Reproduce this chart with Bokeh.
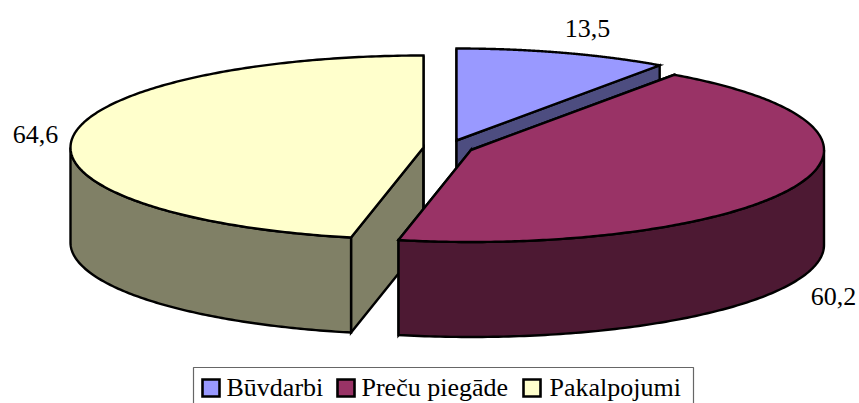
import numpy as np
from bokeh.plotting import figure
from bokeh.core.properties import value
from bokeh.embed import file_html
from bokeh.resources import INLINE

categories = ["Būvdarbi", "Preču piegāde", "Pakalpojumi"]
values = [13.5, 60.2, 64.6]
top_colors = ["#9999FF", "#993366", "#FFFFCC"]
side_colors = ["#4D4D80", "#4D1933", "#808066"]

A, B, DEPTH = 353, 92, 95
centers = [(456, 140), (470.5, 149.5), (423, 147)]
label_pos = [(587, 28), (833, 296), (35, 134)]
legend_x = [202, 337, 523]
legend_text_x = [226, 361, 549]

W, H = 859, 403
p = figure(width=W, height=H, x_range=(0, W), y_range=(H, 0), output_backend="svg",
           toolbar_location=None, min_border=0, outline_line_color=None,
           background_fill_color="white", border_fill_color="white",
           margin=(0, 0, 0, 0))
p.axis.visible = False
p.grid.visible = False

total = sum(values)
edges = np.concatenate([[0], np.cumsum(values)]) / total * 2 * np.pi


def pt(c, th, dz=0):
    th = np.asarray(th, dtype=float)
    return c[0] + A * np.sin(th), c[1] - B * np.cos(th) + dz


def draw(xs, ys, color):
    p.patch(list(xs), list(ys), fill_color=color, line_color="black", line_width=2.4, line_join="miter")


# draw order: first slice, third, then the second in front
for i in [0, 2, 1]:
    c = centers[i]
    a0, a1 = edges[i], edges[i + 1]
    # cut faces
    for th in (a0, a1):
        ex, ey = pt(c, th)
        draw([c[0], ex, ex, c[0]], [c[1], ey, ey + DEPTH, c[1] + DEPTH], side_colors[i])
    # outer wall: visible part lies in the front half
    w0, w1 = max(a0, np.pi / 2), min(a1, 3 * np.pi / 2)
    if w1 > w0:
        th = np.linspace(w0, w1, 120)
        x, y = pt(c, th)
        draw(np.r_[x, x[::-1]], np.r_[y, (y + DEPTH)[::-1]], side_colors[i])
    # top
    th = np.linspace(a0, a1, 240)
    x, y = pt(c, th)
    draw(np.r_[c[0], x], np.r_[c[1], y], top_colors[i])

labels = [f"{v:.1f}".replace(".", ",") for v in values]
p.text([q[0] for q in label_pos], [q[1] for q in label_pos], text=labels,
       text_font=value("Liberation Serif"), text_font_size="26px", text_color="black",
       text_align="center", text_baseline="middle")

# legend (its lower edge runs off the picture)
p.quad(left=[193], right=[693], top=[367], bottom=[420], fill_color="white",
       line_color="#666666", line_width=1.2)
p.quad(left=legend_x, right=[x + 17 for x in legend_x], top=[379] * 3, bottom=[396] * 3,
       fill_color=top_colors, line_color="black", line_width=2.6, line_join="miter")
p.text(legend_text_x, [387] * 3, text=categories, text_font=value("Liberation Serif"),
       text_font_size="26px", text_color="black", text_align="left", text_baseline="middle")

open("out.html", "w").write(file_html(p, INLINE))
